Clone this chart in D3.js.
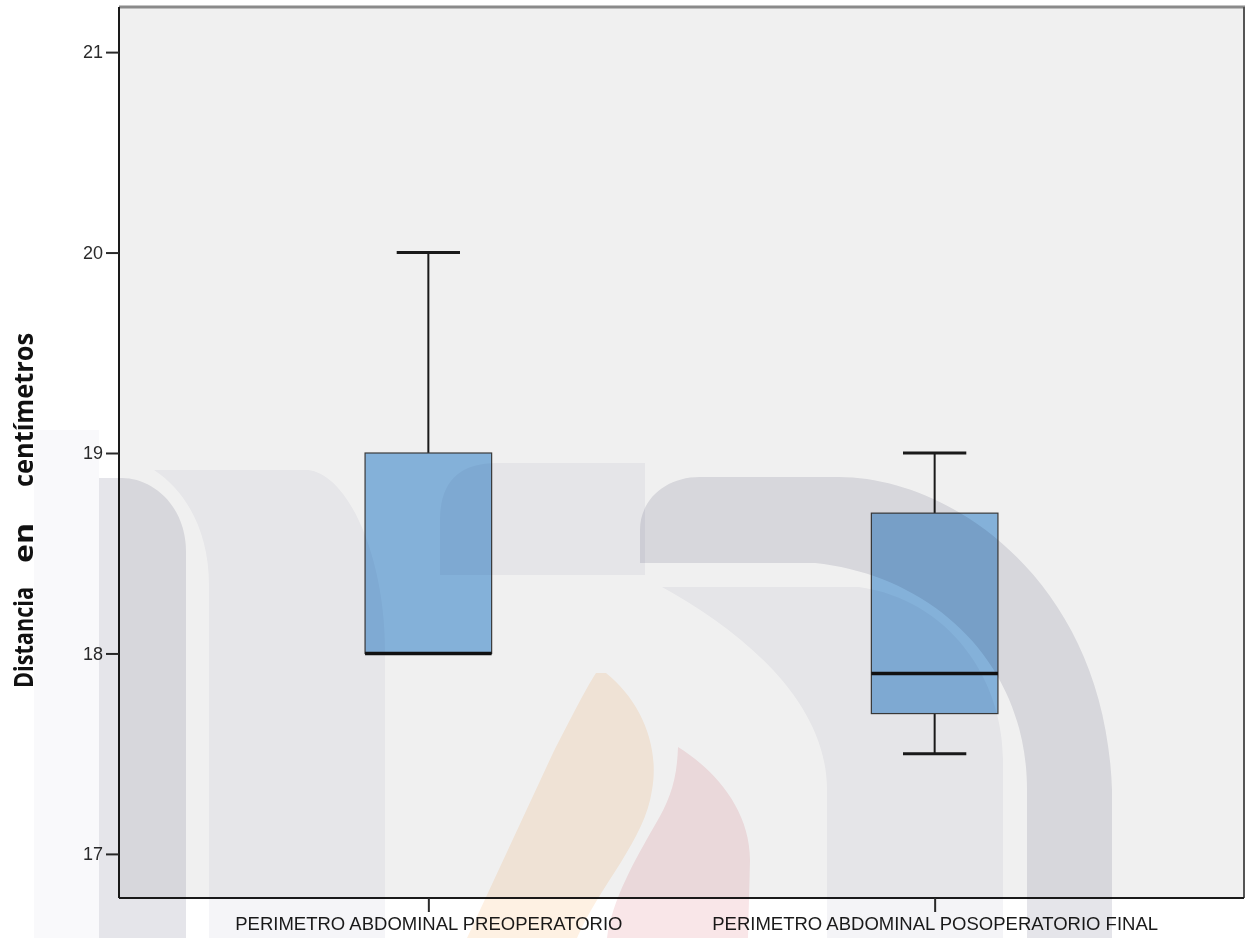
<!DOCTYPE html>
<html>
<head>
<meta charset="utf-8">
<script src="https://cdn.jsdelivr.net/npm/d3@7/dist/d3.min.js"></script>
<style>
  html, body { margin: 0; padding: 0; background: #fff; }
  svg { display: block; }
  .logo path, .logo rect { mix-blend-mode: multiply; }
</style>
</head>
<body>
<svg id="chart" width="1245" height="938"></svg>
<script>
// Box-plot summaries (cm) for each group
const categories = ["PERIMETRO ABDOMINAL PREOPERATORIO", "PERIMETRO ABDOMINAL POSOPERATORIO FINAL"];
const whiskerLow  = [18.0, 17.5];
const quartile1   = [18.0, 17.7];
const medians     = [18.0, 17.9];
const quartile3   = [19.0, 18.7];
const whiskerHigh = [20.0, 19.0];
const yTickValues = [17, 18, 19, 20, 21];
const yTitleWords = ["Distancia", "en", "centímetros"];

const W = 1245, H = 938;
const plot = { left: 119, right: 1244, top: 7, bottom: 898 };

const svg = d3.select("#chart");
svg.append("rect").attr("width", W).attr("height", H).attr("fill", "#fff");

const x = d3.scalePoint()
  .domain(categories)
  .range([plot.left, plot.right])
  .padding(0.611);

const y = d3.scaleLinear()
  .domain([16.78, 21.225])
  .range([plot.bottom, plot.top]);

const boxW = x.step() * 0.25;
const capW = boxW * 0.5;

// plot area
svg.append("rect")
  .attr("x", plot.left).attr("y", plot.top)
  .attr("width", plot.right - plot.left).attr("height", plot.bottom - plot.top)
  .attr("fill", "#f0f0f0");

const rows = categories.map((c, i) => ({
  cat: c, lo: whiskerLow[i], q1: quartile1[i], med: medians[i], q3: quartile3[i], hi: whiskerHigh[i]
}));

const g = svg.append("g");
const box = g.selectAll("g.box").data(rows).join("g").attr("class", "box");

// whiskers
box.filter(d => d.hi > d.q3).append("line")
  .attr("x1", d => x(d.cat)).attr("x2", d => x(d.cat))
  .attr("y1", d => y(d.q3)).attr("y2", d => y(d.hi))
  .attr("stroke", "#1a1a1a").attr("stroke-width", 2);
box.filter(d => d.hi > d.q3).append("line")
  .attr("x1", d => x(d.cat) - capW / 2).attr("x2", d => x(d.cat) + capW / 2)
  .attr("y1", d => y(d.hi)).attr("y2", d => y(d.hi))
  .attr("stroke", "#1a1a1a").attr("stroke-width", 3);
box.filter(d => d.lo < d.q1).append("line")
  .attr("x1", d => x(d.cat)).attr("x2", d => x(d.cat))
  .attr("y1", d => y(d.q1)).attr("y2", d => y(d.lo))
  .attr("stroke", "#1a1a1a").attr("stroke-width", 2);
box.filter(d => d.lo < d.q1).append("line")
  .attr("x1", d => x(d.cat) - capW / 2).attr("x2", d => x(d.cat) + capW / 2)
  .attr("y1", d => y(d.lo)).attr("y2", d => y(d.lo))
  .attr("stroke", "#1a1a1a").attr("stroke-width", 3);

// interquartile boxes
box.append("rect")
  .attr("x", d => x(d.cat) - boxW / 2).attr("width", boxW)
  .attr("y", d => y(d.q3)).attr("height", d => y(d.q1) - y(d.q3))
  .attr("fill", "#84b1d9").attr("stroke", "#3a3a3a").attr("stroke-width", 1.2);

// medians
box.append("line")
  .attr("x1", d => x(d.cat) - boxW / 2).attr("x2", d => x(d.cat) + boxW / 2)
  .attr("y1", d => y(d.med)).attr("y2", d => y(d.med))
  .attr("stroke", "#111").attr("stroke-width", 3.5);

// frame
svg.append("line").attr("x1", plot.left).attr("x2", W).attr("y1", plot.top).attr("y2", plot.top)
  .attr("stroke", "#8a8a8a").attr("stroke-width", 3);
svg.append("line").attr("x1", plot.right).attr("x2", plot.right).attr("y1", plot.top).attr("y2", plot.bottom)
  .attr("stroke", "#555").attr("stroke-width", 2);

// y axis
const yAxis = d3.axisLeft(y).tickValues(yTickValues).tickSize(13).tickPadding(3).tickFormat(d3.format("d"));
const ya = svg.append("g").attr("transform", `translate(${plot.left},0)`).call(yAxis);
ya.select(".domain").attr("d", `M0,${plot.top}V${plot.bottom}`).attr("stroke", "#1a1a1a").attr("stroke-width", 2);
ya.selectAll(".tick line").attr("stroke", "#2a2a2a").attr("stroke-width", 2);
ya.selectAll(".tick text")
  .attr("font-family", "'Liberation Sans', Arial, sans-serif")
  .attr("font-size", 18).attr("fill", "#2a2a2a");

// x axis
const xAxis = d3.axisBottom(x).tickSize(14).tickPadding(5);
const xa = svg.append("g").attr("transform", `translate(0,${plot.bottom})`).call(xAxis);
xa.select(".domain").attr("d", `M${plot.left},0H${plot.right}`).attr("stroke", "#1a1a1a").attr("stroke-width", 2);
xa.selectAll(".tick line").attr("stroke", "#2a2a2a").attr("stroke-width", 2);
xa.selectAll(".tick text")
  .attr("font-family", "'Liberation Sans', Arial, sans-serif")
  .attr("font-size", 18.5).attr("fill", "#1a1a1a").attr("dy", "0.71em");

// y title, words spread along the axis
const titleSpans = [
  { word: yTitleWords[0], start: 688, len: 101 },
  { word: yTitleWords[1], start: 563, len: 40 },
  { word: yTitleWords[2], start: 487, len: 154 }
];
svg.append("g").attr("transform", "rotate(-90)")
  .selectAll("text").data(titleSpans).join("text")
  .attr("x", d => -d.start).attr("y", 33)
  .attr("textLength", d => d.len).attr("lengthAdjust", "spacingAndGlyphs")
  .attr("font-family", "'Open Sans', 'Noto Sans', sans-serif")
  .attr("font-weight", "bold").attr("font-size", 27).attr("fill", "#111")
  .text(d => d.word);

// faint institutional logo printed over the page
const logo = svg.append("g").attr("class", "logo");
const logoShapes = [
  { fill: "rgb(249,249,251)", d: "M34,430H99V938H34Z" },
  { fill: "rgb(229,229,234)", d: "M99,938V478H122C152,478 186,505 186,552V938Z" },
  { fill: "rgb(245,245,248)", d: "M154,470H308C350,475 385,560 385,650V938H209V585C209,530 185,490 154,470Z" },
  { fill: "rgb(244,244,247)", d: "M440,575V520Q440,463 497,463H645V575Z" },
  { fill: "rgb(229,229,234)", d: "M640,563V530C640,500 665,477 700,477H839C950,477 1105,580 1112,790V938H1027V790C1027,660 930,575 815,563Z" },
  { fill: "rgb(244,244,247)", d: "M662,587H859C950,600 1003,680 1003,760V938H827V790C827,700 740,630 662,587Z" },
  { fill: "rgb(254,241,227)", d: "M596,673H606C640,700 660,745 652,790C645,840 600,885 577,938H467L553,753C570,720 585,690 596,673Z" },
  { fill: "rgb(249,230,232)", d: "M678,747C715,770 750,810 750,860L748,938H607C612,900 635,860 655,825C670,800 677,780 678,747Z" }
];
logo.selectAll("path").data(logoShapes).join("path")
  .attr("d", d => d.d).attr("fill", d => d.fill);
</script>
</body>
</html>
